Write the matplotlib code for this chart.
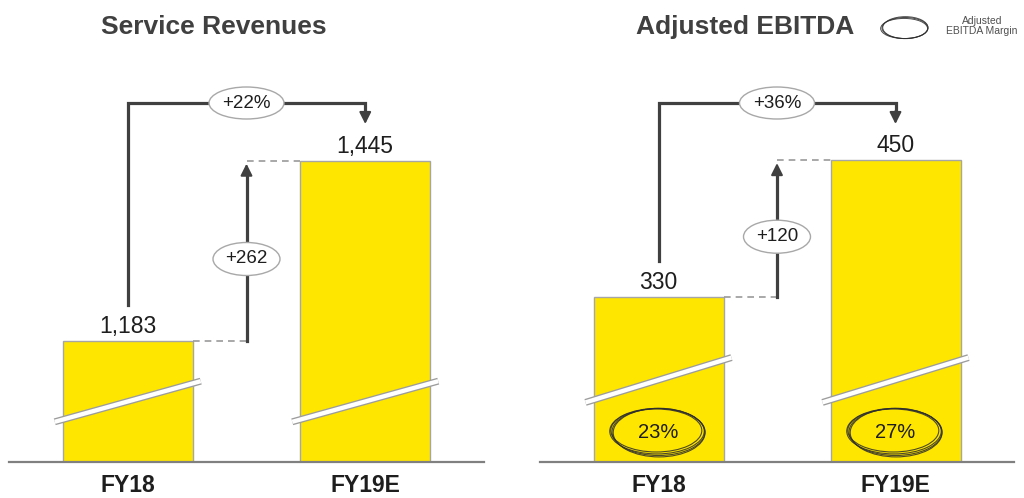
import matplotlib
matplotlib.use('Agg')
import matplotlib.pyplot as plt
from matplotlib.patches import Ellipse

plt.rcParams['font.family'] = ['Liberation Sans', 'DejaVu Sans']

# values shown on the slide
years = ['FY18', 'FY19E']
service_revenues = [1183, 1445]
adj_ebitda = [330, 450]
ebitda_margin = ['23%', '27%']

BAR_YELLOW = '#FFE600'
BAR_EDGE = '#A6A6A6'
LINE_DARK = '#404040'
DASH_GREY = '#9A9A9A'
OVAL_GREY = '#A8A8A8'
TEXT = '#1E1E1E'
SKETCH = '#2E2E2E'

W, H = 1024, 498
BASE_PX = 462  # baseline position, pixels from the top edge

# pen-drawn look for the margin ovals: (dx, dy, dw, dh) in pixels
SKETCH_JITTER = [(0, 0, 0, 0), (-1.5, 0.8, 1.5, -1.5), (0.6, -0.6, -1.2, 1.6),
                 (-2.2, 1.5, -2.0, -4.0)]

fig = plt.figure(figsize=(W / 100, H / 100), dpi=100)


def make_axes(x0, x1, ylim):
    ax = fig.add_axes([x0 / W, (H - BASE_PX) / H, (x1 - x0) / W, BASE_PX / H])
    ax.set_xlim(-0.5, 1.5)
    ax.set_ylim(*ylim)
    ax.axis('off')
    return ax


def px_units(ax):
    y0, y1 = ax.get_ylim()
    return 2.0 / ax.bbox.width, (y1 - y0) / ax.bbox.height


def oval_label(ax, x, y, w, h, label, fontsize=13.5):
    dx, dy = px_units(ax)
    ax.add_patch(Ellipse((x, y), w * dx, h * dy, facecolor='white',
                         edgecolor=OVAL_GREY, lw=1.0, zorder=6, clip_on=False))
    ax.text(x, y, label, ha='center', va='center', fontsize=fontsize,
            color=TEXT, zorder=7)


def sketch_oval(ax, x, y, w, h):
    dx, dy = px_units(ax)
    for jx, jy, jw, jh in SKETCH_JITTER:
        ax.add_patch(Ellipse((x + jx * dx, y + jy * dy), (w + jw) * dx, (h + jh) * dy,
                             fill=False, edgecolor=SKETCH, lw=0.8, alpha=0.85,
                             zorder=5, clip_on=False))


def draw_panel(ax, values, break_y, margins=None):
    xs = [0, 1]
    dx, dy = px_units(ax)
    y0 = ax.get_ylim()[0]
    bw = 130 * dx

    ax.bar(xs, values, width=bw, color=BAR_YELLOW, edgecolor=BAR_EDGE,
           linewidth=1.0, zorder=2)
    ax.plot([-0.5, 1.5], [y0, y0], color='#808080', lw=1.6,
            clip_on=False, zorder=3)

    for xi, v in zip(xs, values):
        ax.text(xi, v + 8 * dy, f'{v:,}', ha='center', va='baseline',
                fontsize=16.5, color=TEXT, zorder=7)

    # axis break across each bar
    bt = ax.get_xaxis_transform()
    for xi in xs:
        seg = [xi - bw / 2 - 8 * dx, xi + bw / 2 + 8 * dx]
        ax.plot(seg, break_y, transform=bt, color='#9C9C9C', lw=5.0,
                solid_capstyle='butt', clip_on=False, zorder=4)
        ax.plot(seg, break_y, transform=bt, color='white', lw=3.1,
                solid_capstyle='butt', clip_on=False, zorder=4)

    v1, v2 = values

    # growth bracket over both bars
    top = y0 + (BASE_PX - 103) * dy
    ax.plot([0, 0, 1, 1], [v1 + 36 * dy, top, top, top - 8 * dy],
            color=LINE_DARK, lw=2.3, solid_joinstyle='miter', zorder=3)
    ax.annotate('', xy=(1, top - 21 * dy), xytext=(1, top - 8 * dy),
                arrowprops=dict(arrowstyle='-|>,head_length=0.7,head_width=0.35',
                                color=LINE_DARK, lw=1.5, shrinkA=0, shrinkB=0),
                zorder=3)
    growth = (v2 / v1 - 1) * 100
    oval_label(ax, 0.5, top, 75, 32, f'+{growth:.0f}%')

    # absolute increase step
    ax.plot([bw / 2, 0.5], [v1, v1], color=DASH_GREY, lw=1.2,
            ls=(0, (4, 3)), zorder=3)
    ax.plot([0.5, 1 - bw / 2], [v2, v2], color=DASH_GREY, lw=1.2,
            ls=(0, (4, 3)), zorder=3)
    ax.plot([0.5, 0.5], [v1, v2 - 14 * dy], color=LINE_DARK, lw=2.3, zorder=3)
    ax.annotate('', xy=(0.5, v2 - 3 * dy), xytext=(0.5, v2 - 14 * dy),
                arrowprops=dict(arrowstyle='-|>,head_length=0.7,head_width=0.35',
                                color=LINE_DARK, lw=1.5, shrinkA=0, shrinkB=0),
                zorder=3)
    oval_label(ax, 0.5, (v1 + v2) / 2 - 8 * dy, 67, 33, f'+{v2 - v1:,}')

    if margins:
        for xi, m in zip(xs, margins):
            cy = y0 + 30 * dy
            sketch_oval(ax, xi, cy, 93, 47)
            ax.text(xi, cy, m, ha='center', va='center', fontsize=14.5,
                    color=TEXT, zorder=6)

    for xi, yr in zip(xs, years):
        ax.annotate(yr, (xi, 0), xycoords=bt, xytext=(0, -23),
                    textcoords='offset pixels', ha='center', va='center',
                    fontsize=16.5, fontweight='bold', color=TEXT)


ax_rev = make_axes(9, 484, (1008, 1678))
draw_panel(ax_rev, service_revenues, break_y=(0.087, 0.175))

ax_ebitda = make_axes(540, 1014, (186, 590))
draw_panel(ax_ebitda, adj_ebitda, break_y=(0.129, 0.226), margins=ebitda_margin)

fig.text(214 / W, 1 - 27 / H, 'Service Revenues', ha='center', va='center',
         fontsize=19, fontweight='bold', color='#404040')
fig.text(745 / W, 1 - 27 / H, 'Adjusted EBITDA', ha='center', va='center',
         fontsize=19, fontweight='bold', color='#404040')

# margin legend
for jx, jy, jw, jh in SKETCH_JITTER[:3]:
    fig.add_artist(Ellipse(((905 + jx * 0.6) / W, 1 - (28 + jy * 0.6) / H),
                           (46 + jw * 0.6) / W, (21 + jh * 0.6) / H, fill=False,
                           edgecolor=SKETCH, lw=0.7, alpha=0.85,
                           transform=fig.transFigure))
fig.text(982 / W, 1 - 26 / H, 'Adjusted\nEBITDA Margin', ha='center',
         va='center', fontsize=7.5, color='#505050', linespacing=1.0)

fig.savefig('out.png', dpi=100)
